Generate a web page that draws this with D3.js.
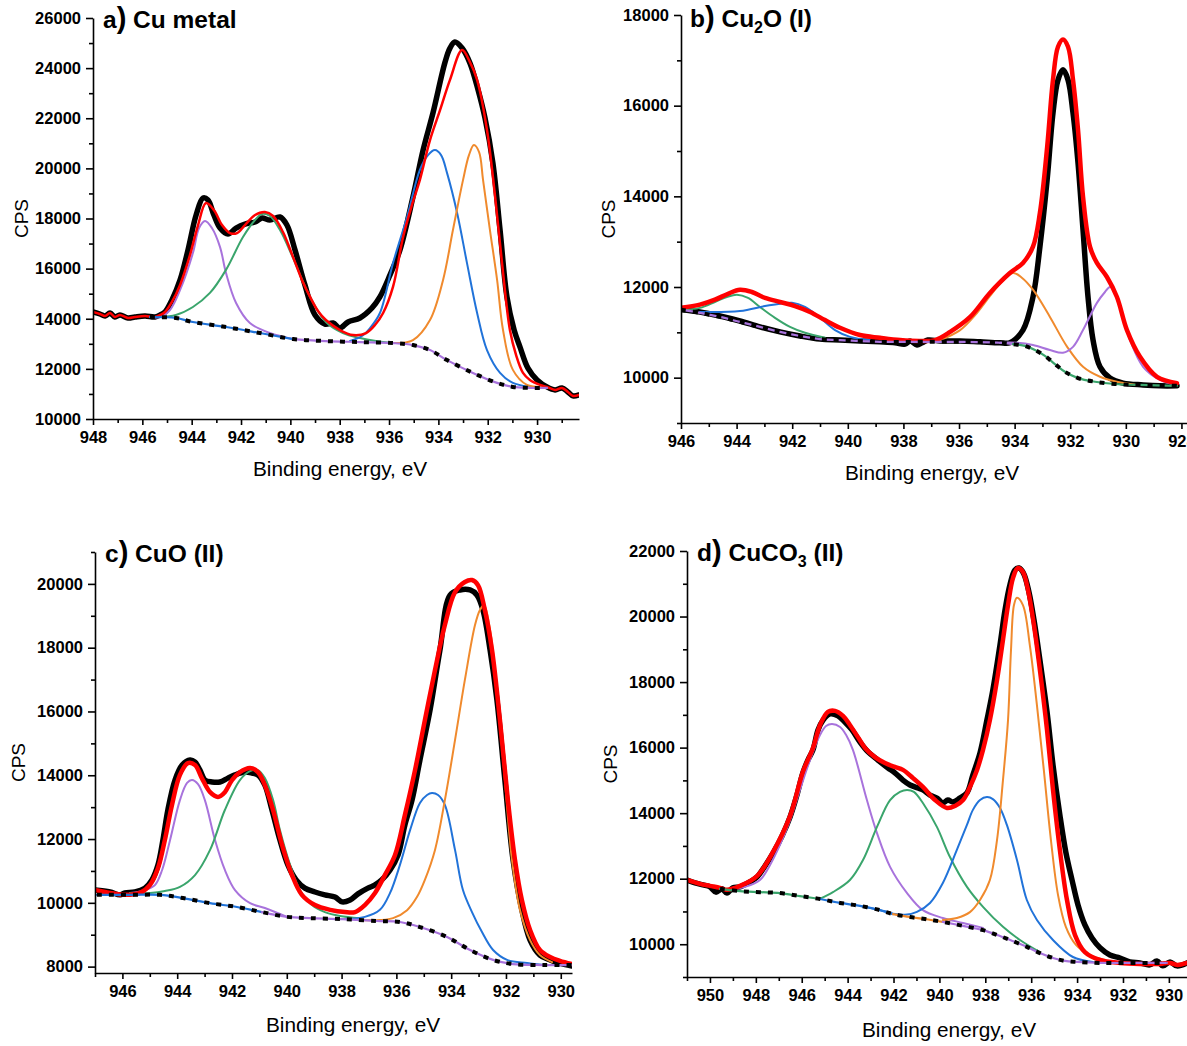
<!DOCTYPE html>
<html lang="en">
<head>
<meta charset="UTF-8">
<title>Cu 2p satellite fits</title>
<script src="https://cdn.jsdelivr.net/npm/d3@7"></script>
<style>
  body { margin: 0; background: #fff; }
  svg text { font-family: "Liberation Sans", Arial, sans-serif; fill: #000; }
</style>
</head>
<body>
<div id="chart"></div>
<script>
// ---- data: [binding energy eV, CPS] ----

// a) Cu metal
const aExp = [[948.00,14270],[947.72,14190],[947.51,14110],[947.31,14230],[947.11,14070],[946.91,14150],[946.58,14030],[946.30,14070],[945.89,14110],[945.49,14070],[945.28,14150],[945.08,14270],[944.80,14750],[944.47,15550],[944.15,16740],[943.82,18140],[943.54,18820],[943.34,18740],[943.10,18140],[942.85,17620],[942.53,17380],[942.20,17620],[941.84,17780],[941.43,17860],[941.15,18020],[940.83,17940],[940.42,18060],[940.14,17740],[939.81,16740],[939.41,15350],[939.00,14150],[938.60,13790],[938.27,13830],[937.99,13630],[937.66,13870],[937.18,14030],[936.69,14430],[936.37,14870],[935.96,15750],[935.56,16740],[935.03,18860],[934.62,20730],[934.22,22210],[933.73,24240],[933.53,24800],[933.33,25040],[933.04,24800],[932.72,24200],[932.39,23130],[932.11,22010],[931.79,20210],[931.50,17540],[931.22,14870],[930.93,13550],[930.69,12870],[930.37,12030],[930.00,11560],[929.60,11280],[929.27,11160],[928.99,11240],[928.75,11080],[928.54,10920],[928.30,10960]];
const aFit = [[948.00,14270],[947.72,14190],[947.51,14110],[947.31,14230],[947.11,14070],[946.91,14150],[946.58,14030],[946.30,14070],[945.89,14110],[945.49,14070],[945.28,14150],[945.08,14270],[944.80,14670],[944.47,15350],[944.07,16540],[943.74,17740],[943.42,18620],[943.10,18340],[942.77,17740],[942.45,17420],[942.16,17420],[941.84,17740],[941.43,18140],[941.03,18260],[940.70,18100],[940.30,17460],[939.89,16460],[939.53,15550],[939.20,14870],[938.88,14310],[938.56,13950],[937.99,13550],[937.46,13350],[936.93,13430],[936.57,13750],[936.24,14230],[935.84,15270],[935.43,17260],[935.07,18540],[934.75,19540],[934.34,21130],[933.93,22330],[933.53,23530],[933.04,24720],[932.72,24240],[932.43,23530],[932.03,21530],[931.70,18860],[931.42,16220],[931.10,13550],[930.85,12550],[930.57,11840],[930.29,11560],[929.88,11360],[929.60,11280],[929.27,11160],[928.99,11240],[928.75,11080],[928.54,10920],[928.30,10960]];
const aBg = [[945.69,14070],[944.64,14030],[943.95,13870],[942.61,13670],[941.23,13430],[939.89,13190],[938.56,13110],[937.18,13070],[935.84,13030],[935.03,12950],[934.34,12750],[933.65,12350],[932.60,11840],[931.62,11440],[930.98,11280],[930.29,11240],[929.60,11240]];
const aPurple = [[945.69,14070],[945.28,14070],[944.88,14350],[944.47,15150],[943.95,16620],[943.70,17620],[943.46,17900],[943.18,17620],[942.85,16860],[942.61,15830],[942.20,14630],[941.64,13830],[940.83,13430],[939.89,13190]];
const aGreen = [[945.28,14070],[944.64,14150],[943.95,14470],[943.26,15030],[942.61,15950],[941.92,17260],[941.43,17940],[941.15,18180],[940.83,18100],[940.42,17540],[939.89,16420],[939.20,14870],[938.56,13870],[937.87,13430],[937.18,13230],[936.53,13110],[935.84,13030]];
const aBlue = [[937.58,13110],[937.10,13310],[936.77,13630],[936.37,14230],[935.84,16220],[935.27,18060],[934.75,19940],[934.42,20530],[934.14,20730],[933.89,20530],[933.65,19820],[933.24,18220],[932.84,16220],[932.43,14230],[932.03,12750],[931.50,11840],[930.98,11440],[930.29,11280],[929.60,11240]];
const aOrange = [[935.84,13030],[935.03,13150],[934.34,13950],[933.81,15550],[933.41,17540],[933.00,19540],[932.76,20530],[932.56,20930],[932.35,20650],[932.19,19540],[931.91,17540],[931.62,15550],[931.38,13550],[930.98,11960],[930.41,11360],[929.88,11280],[929.60,11240]];

// b) Cu2O (I)
const bExp = [[946.00,11500],[945.32,11450],[944.60,11360],[943.88,11250],[943.16,11120],[942.44,11010],[941.72,10920],[941.00,10850],[940.28,10830],[939.56,10810],[938.84,10790],[938.30,10770],[937.94,10740],[937.76,10810],[937.51,10720],[937.33,10770],[937.12,10830],[936.68,10810],[935.96,10810],[935.24,10790],[934.53,10770],[934.17,10770],[933.70,11050],[933.34,11780],[933.09,12890],[932.83,14370],[932.62,15840],[932.44,16570],[932.26,16790],[932.08,16570],[931.90,15840],[931.72,14740],[931.54,13260],[931.36,11780],[931.18,10830],[930.93,10240],[930.57,9990],[930.10,9880],[929.38,9840],[928.77,9820],[928.16,9820]];
const bFit = [[946.00,11540],[945.32,11610],[944.78,11720],[944.31,11850],[943.88,11940],[943.45,11890],[942.98,11760],[942.44,11670],[941.90,11580],[941.36,11450],[940.82,11270],[940.28,11100],[939.56,10940],[938.84,10880],[938.12,10830],[937.40,10810],[936.86,10830],[936.32,11010],[935.60,11340],[934.89,11870],[934.17,12310],[933.70,12530],[933.34,12890],[933.09,13640],[932.83,15090],[932.62,16570],[932.44,17300],[932.26,17460],[932.08,17300],[931.90,16570],[931.72,15470],[931.54,13990],[931.29,12890],[931.04,12530],[930.68,12220],[930.32,11780],[929.96,11050],[929.49,10460],[928.88,10020],[928.16,9880]];
const bBg = [[946.00,11500],[945.32,11430],[944.60,11340],[943.88,11230],[943.16,11120],[942.44,11010],[941.72,10920],[941.00,10850],[940.28,10830],[938.84,10790],[937.40,10790],[935.96,10790],[934.53,10770],[934.06,10740],[933.63,10700],[933.27,10610],[932.91,10480],[932.55,10300],[932.19,10130],[931.72,9990],[931.11,9910],[930.39,9860],[929.49,9840],[928.16,9820]];
const bGreen = [[946.00,11500],[945.32,11540],[944.78,11670],[944.35,11780],[943.99,11830],[943.59,11760],[943.16,11560],[942.62,11320],[942.08,11120],[941.54,10990],[940.82,10880]];
const bBlue = [[945.32,11450],[943.88,11470],[942.98,11580],[942.44,11630],[942.01,11650],[941.54,11560],[941.00,11320],[940.46,11050],[939.92,10900],[939.20,10830]];
const bOrange = [[936.68,10830],[935.96,11050],[935.42,11380],[934.89,11800],[934.53,12070],[934.06,12310],[933.73,12200],[933.34,11940],[932.73,11340],[932.11,10680],[931.54,10240],[930.93,10020],[930.32,9910],[929.60,9840]];
const bPurple = [[934.53,10770],[933.91,10770],[933.34,10720],[932.73,10610],[932.26,10550],[931.90,10680],[931.54,11050],[931.04,11650],[930.75,11890],[930.57,12000],[930.39,11890],[930.21,11560],[929.85,10830],[929.38,10240],[928.77,9950],[928.16,9840]];

// c) CuO (II)
const cExp = [[947.00,10400],[946.45,10340],[946.09,10250],[945.91,10310],[945.54,10340],[945.18,10460],[944.92,10720],[944.70,11190],[944.52,11970],[944.34,12910],[944.08,13850],[943.82,14320],[943.53,14480],[943.35,14410],[943.17,14160],[942.99,13850],[942.73,13790],[942.44,13790],[942.15,13910],[941.89,14010],[941.53,14100],[941.27,14070],[941.05,14010],[940.80,13690],[940.54,12910],[940.25,11970],[939.96,11190],[939.66,10720],[939.34,10460],[938.97,10340],[938.61,10250],[938.24,10180],[937.98,10030],[937.69,10090],[937.40,10280],[937.04,10460],[936.78,10560],[936.53,10720],[936.23,11030],[935.94,11500],[935.69,12440],[935.43,13220],[935.14,14480],[934.77,16050],[934.41,17930],[934.04,19650],[933.68,19810],[933.31,19810],[933.06,19650],[932.84,19180],[932.58,17930],[932.33,16360],[932.04,13850],[931.74,11340],[931.42,9780],[931.12,8830],[930.76,8360],[930.39,8210],[930.07,8110],[929.59,8020]];
const cFit = [[947.00,10400],[946.45,10310],[945.91,10250],[945.36,10310],[944.99,10560],[944.70,11090],[944.45,11970],[944.19,13070],[943.90,14010],[943.61,14380],[943.35,14320],[943.10,13910],[942.80,13470],[942.51,13320],[942.26,13470],[942.00,13850],[941.71,14100],[941.34,14230],[941.05,14100],[940.80,13690],[940.50,12910],[940.17,11810],[939.81,10870],[939.45,10250],[938.97,9930],[938.42,9780],[937.88,9710],[937.51,9710],[937.15,9930],[936.78,10310],[936.42,10870],[936.05,11500],[935.69,12750],[935.32,14160],[934.96,15730],[934.59,17300],[934.23,18710],[933.86,19740],[933.50,20060],[933.24,20120],[933.02,19960],[932.77,19180],[932.51,17930],[932.22,15730],[931.93,13220],[931.67,11340],[931.42,10090],[931.12,9150],[930.76,8520],[930.39,8300],[930.03,8180],[929.59,8080]];
const cBg = [[946.93,10250],[945.72,10250],[944.63,10250],[943.79,10150],[942.80,9990],[941.82,9870],[940.91,9710],[939.99,9560],[939.15,9520],[937.95,9490],[936.71,9430],[935.87,9400],[935.14,9240],[934.15,8930],[933.31,8520],[932.47,8210],[931.74,8080],[930.65,8050],[929.59,8050]];
const cPurple = [[945.72,10310],[945.18,10400],[944.81,10560],[944.55,11030],[944.26,11970],[943.90,13220],[943.64,13760],[943.46,13850],[943.24,13720],[942.99,13220],[942.62,11970],[942.26,11030],[941.89,10400],[941.34,9990],[940.80,9840],[939.99,9560]];
const cGreen = [[945.72,10310],[944.99,10310],[944.45,10370],[943.90,10500],[943.35,10870],[942.80,11660],[942.26,12910],[941.71,13850],[941.34,14130],[941.05,14160],[940.80,13910],[940.50,13220],[940.25,12280],[939.88,11190],[939.52,10400],[939.08,9930],[938.61,9710],[938.06,9590],[937.33,9520]];
const cBlue = [[937.95,9490],[937.15,9560],[936.60,9780],[936.23,10310],[935.87,11190],[935.50,12280],[935.14,13130],[934.88,13380],[934.70,13440],[934.48,13380],[934.23,13070],[933.86,11660],[933.57,10400],[933.24,9710],[932.88,9090],[932.47,8520],[931.96,8210],[931.23,8110],[930.58,8050]];
const cOrange = [[937.33,9460],[936.60,9460],[936.12,9520],[935.61,9770],[935.25,10180],[934.96,10720],[934.59,11660],[934.23,13220],[933.86,15100],[933.50,16990],[933.13,18710],[932.95,19180],[932.80,19340],[932.58,18550],[932.33,16670],[932.04,13850],[931.78,11340],[931.49,9780],[931.12,8830],[930.76,8360],[930.32,8140]];

// d) CuCO3 (II)
const dExp = [[951.00,11960],[950.65,11870],[950.30,11810],[950.00,11750],[949.74,11590],[949.47,11690],[949.26,11560],[949.00,11720],[948.69,11750],[948.26,11900],[947.95,12050],[947.60,12390],[947.25,12780],[946.86,13300],[946.51,13880],[946.21,14550],[945.95,15230],[945.73,15620],[945.51,15930],[945.29,16540],[945.07,16840],[944.77,17030],[944.42,16970],[944.12,16780],[943.81,16540],[943.46,16170],[943.11,15870],[942.68,15620],[942.24,15380],[941.94,15230],[941.59,15010],[941.28,14860],[940.94,14770],[940.72,14710],[940.41,14550],[940.11,14460],[939.85,14310],[939.63,14400],[939.41,14340],[939.11,14460],[938.80,14620],[938.54,15170],[938.23,15840],[937.93,16840],[937.67,17760],[937.36,19130],[937.14,20200],[936.93,20960],[936.71,21420],[936.53,21480],[936.32,21300],[936.10,20750],[935.88,19900],[935.62,18670],[935.31,17090],[935.05,15470],[934.75,13940],[934.49,12810],[934.22,11960],[933.96,11200],[933.66,10590],[933.35,10190],[933.00,9890],[932.57,9670],[932.13,9580],[931.70,9460],[931.26,9430],[930.83,9370],[930.52,9490],[930.26,9340],[929.95,9460],[929.65,9340],[929.21,9430]];
const dFit = [[951.00,11960],[950.43,11840],[950.00,11780],[949.56,11720],[949.26,11660],[948.69,11780],[947.95,12080],[947.25,12820],[946.51,13910],[945.95,15260],[945.51,15990],[945.20,16690],[944.86,17090],[944.55,17120],[944.20,16970],[943.90,16690],[943.55,16320],[943.24,15990],[942.81,15710],[942.37,15530],[941.94,15410],[941.59,15320],[941.15,15070],[940.72,14800],[940.19,14400],[939.67,14160],[939.32,14220],[938.97,14400],[938.67,14800],[938.36,15320],[938.10,15930],[937.80,16840],[937.49,18060],[937.23,19290],[937.01,20350],[936.79,21180],[936.58,21480],[936.36,21360],[936.14,20810],[935.88,19740],[935.62,18370],[935.31,16540],[935.05,14710],[934.75,12880],[934.44,11350],[934.09,10280],[933.66,9760],[933.00,9520],[932.13,9430],[931.26,9400],[930.39,9400],[929.95,9430],[929.65,9370],[929.21,9430]];
const dBg = [[949.56,11690],[948.69,11620],[947.82,11590],[946.95,11560],[946.08,11470],[945.20,11380],[944.33,11260],[943.46,11170],[942.59,11040],[942.02,10920],[941.28,10830],[940.63,10770],[939.85,10680],[938.97,10560],[938.10,10430],[937.36,10250],[936.71,10070],[936.19,9920],[935.62,9730],[935.05,9580],[934.53,9490],[934.00,9460],[933.00,9430],[931.57,9430],[930.09,9430]];
const dPurple = [[949.13,11660],[948.47,11750],[947.82,11960],[947.38,12420],[946.95,13030],[946.51,13790],[946.08,14710],[945.64,15620],[945.20,16390],[944.94,16660],[944.68,16720],[944.33,16630],[944.07,16390],[943.77,15930],[943.16,14400],[942.72,13390],[942.15,12360],[941.41,11560],[940.72,11040],[939.85,10800],[938.97,10650],[938.10,10500]];
const dGreen = [[945.20,11390],[944.64,11590],[943.90,11960],[943.33,12570],[942.72,13580],[942.15,14400],[941.72,14650],[941.41,14710],[941.11,14650],[940.72,14310],[940.11,13580],[939.54,12660],[938.80,11750],[938.10,11140],[937.23,10530],[936.49,10130],[935.62,9760]];
const dBlue = [[943.46,11170],[942.59,11040],[942.02,10930],[941.50,10900],[940.98,10990],[940.41,11260],[939.85,11870],[939.24,12880],[938.80,13640],[938.54,14100],[938.23,14400],[937.93,14490],[937.67,14430],[937.36,14160],[937.06,13640],[936.62,12570],[936.19,11350],[935.75,10740],[935.05,10130],[934.18,9610],[933.31,9460]];
const dOrange = [[939.85,10740],[939.24,10800],[938.67,10980],[938.23,11350],[937.80,11960],[937.49,13180],[937.23,15010],[937.01,16840],[936.88,18980],[936.75,20350],[936.62,20570],[936.36,20350],[936.06,19130],[935.75,17300],[935.45,15320],[935.14,13180],[934.83,11500],[934.49,10530],[934.05,9980],[933.44,9670],[932.79,9520]];

// ---- styles / layout ----
const PURPLE = "#a873dc", GREEN = "#3aa56c", BLUE = "#2173d9", ORANGE = "#f08a2d", RED = "#ff0000";

const panels = [
  { id: "a", left: 93, right: 579, top: 18, bottom: 419, xDomain: [948, 928.3], yDomain: [10000, 26000],
    exp: aExp, fit: aFit, bg: aBg, fitWidth: 2.5,
    comps: [[aPurple, PURPLE], [aGreen, GREEN], [aBlue, BLUE], [aOrange, ORANGE]],
    bgUnder: [[946, 939.89, BLUE], [939.89, 929, PURPLE]],
    title: { x: 103, y: 28, parts: [["a"], [")", "paren"], [" Cu metal"]] },
    yLabelX: 21, xLabelX: 340, xLabelY: 476 },
  { id: "b", left: 681, right: 1187, top: 15, bottom: 423, xDomain: [946, 927.8], yDomain: [9000, 18000],
    exp: bExp, fit: bFit, bg: bBg, fitWidth: 4.5,
    comps: [[bGreen, GREEN], [bBlue, BLUE], [bOrange, ORANGE], [bPurple, PURPLE]],
    bgUnder: [[946.1, 934.06, PURPLE], [934.06, 927, GREEN]],
    title: { x: 690, y: 27, parts: [["b"], [")", "paren"], [" Cu"], ["2", "sub"], ["O (I)"]] },
    yLabelX: 608, xLabelX: 932, xLabelY: 480 },
  { id: "c", left: 95, right: 572, top: 552, bottom: 973, xDomain: [947, 929.59], yDomain: [7800, 21000],
    exp: cExp, fit: cFit, bg: cBg, fitWidth: 4.5,
    comps: [[cPurple, PURPLE], [cGreen, GREEN], [cBlue, BLUE], [cOrange, ORANGE]],
    bgUnder: [[947.1, 940.91, BLUE], [940.91, 929, PURPLE]],
    title: { x: 105, y: 562, parts: [["c"], [")", "paren"], [" CuO (II)"]] },
    yLabelX: 18, xLabelX: 353, xLabelY: 1032 },
  { id: "d", left: 687, right: 1187, top: 551, bottom: 977, xDomain: [951, 929.21], yDomain: [9000, 22000],
    exp: dExp, fit: dFit, bg: dBg, fitWidth: 4.5,
    comps: [[dPurple, PURPLE], [dGreen, GREEN], [dBlue, BLUE], [dOrange, ORANGE]],
    bgUnder: [[950, 945.20, GREEN], [945.20, 942.02, BLUE], [942.02, 939.85, ORANGE], [939.85, 929, PURPLE]],
    title: { x: 697, y: 561, parts: [["d"], [")", "paren"], [" CuCO"], ["3", "sub"], [" (II)"]] },
    yLabelX: 610, xLabelX: 949, xLabelY: 1037 }
];

const W = 1187, H = 1046;
const svg = d3.select("#chart").append("svg")
  .attr("width", W).attr("height", H)
  .attr("viewBox", [0, 0, W, H]);

panels.forEach(p => {
  const x = d3.scaleLinear().domain(p.xDomain).range([p.left, p.right]);
  const y = d3.scaleLinear().domain(p.yDomain).range([p.bottom, p.top]);
  const line = d3.line()
    .x(d => x(d[0])).y(d => y(d[1]))
    .curve(d3.curveCatmullRom.alpha(0.5));

  const g = svg.append("g");

  svg.append("clipPath").attr("id", "clip-" + p.id)
    .append("rect")
    .attr("x", p.left).attr("y", p.top - 20)
    .attr("width", p.right - p.left).attr("height", p.bottom - p.top + 20);

  const plot = g.append("g").attr("clip-path", `url(#clip-${p.id})`);

  const stroke = (sel, color, w) => sel.attr("fill", "none").attr("stroke", color)
    .attr("stroke-width", w).attr("stroke-linejoin", "round").attr("stroke-linecap", "round");

  // experimental spectrum
  plot.append("path").datum(p.exp).attr("d", line).call(stroke, "#000", 5.5);

  // fitted components
  p.comps.forEach(([data, color]) => {
    plot.append("path").datum(data).attr("d", line).call(stroke, color, 2);
  });

  // envelope
  plot.append("path").datum(p.fit).attr("d", line).call(stroke, RED, p.fitWidth);

  // background: coloured line under black dashes
  p.bgUnder.forEach(([hi, lo, color]) => {
    const seg = p.bg.filter(d => d[0] <= hi && d[0] >= lo);
    plot.append("path").datum(seg).attr("d", line).call(stroke, color, 2.2);
  });
  plot.append("path").datum(p.bg).attr("d", line)
    .attr("fill", "none").attr("stroke", "#000").attr("stroke-width", 4)
    .attr("stroke-dasharray", "5,7");

  // axes
  const [xHi, xLo] = p.xDomain;
  const xMajor = d3.range(Math.ceil(xLo / 2) * 2, xHi + 0.001, 2);
  const xMinor = d3.range(Math.ceil(xLo), xHi + 0.001, 1).filter(v => v % 2 !== 0);
  const [yLo, yHi] = p.yDomain;
  const yMajor = d3.range(Math.ceil(yLo / 2000) * 2000, yHi + 1, 2000);
  const yMinor = d3.range(Math.ceil(yLo / 1000) * 1000, yHi + 1, 1000).filter(v => v % 2000 !== 0);

  const xAxis = g.append("g").attr("transform", `translate(0,${p.bottom})`)
    .call(d3.axisBottom(x).tickValues(xMajor).tickFormat(d3.format("d")).tickSize(6).tickSizeOuter(0).tickPadding(6));
  g.append("g").attr("transform", `translate(0,${p.bottom})`)
    .call(d3.axisBottom(x).tickValues(xMinor).tickFormat("").tickSize(4).tickSizeOuter(0))
    .select(".domain").remove();

  const yAxis = g.append("g").attr("transform", `translate(${p.left},0)`)
    .call(d3.axisLeft(y).tickValues(yMajor).tickFormat(d3.format("d")).tickSize(7).tickSizeOuter(0).tickPadding(5));
  g.append("g").attr("transform", `translate(${p.left},0)`)
    .call(d3.axisLeft(y).tickValues(yMinor).tickFormat("").tickSize(4).tickSizeOuter(0))
    .select(".domain").remove();

  g.selectAll(".domain, .tick line").attr("stroke", "#000").attr("stroke-width", 1.6);
  [xAxis, yAxis].forEach(ax => ax.selectAll("text")
    .attr("font-family", '"Liberation Sans", Arial, sans-serif')
    .attr("font-size", 16.5).attr("font-weight", "bold").attr("fill", "#000"));

  // axis titles
  g.append("text")
    .attr("x", p.xLabelX).attr("y", p.xLabelY)
    .attr("text-anchor", "middle").attr("font-size", 20.8)
    .text("Binding energy, eV");
  g.append("text")
    .attr("transform", `translate(${p.yLabelX},${(p.top + p.bottom) / 2}) rotate(-90)`)
    .attr("text-anchor", "middle").attr("dy", "0.35em").attr("font-size", 19)
    .text("CPS");

  // panel title
  const t = g.append("text").attr("x", p.title.x).attr("y", p.title.y)
    .attr("font-weight", "bold").attr("font-size", 24.5);
  let shifted = 0;
  p.title.parts.forEach(([s, kind]) => {
    const span = t.append("tspan").text(s);
    if (kind === "paren") span.attr("font-size", 29);
    if (kind === "sub") { span.attr("font-size", 16).attr("dy", 6); shifted = 6; }
    else if (shifted) { span.attr("dy", -shifted); shifted = 0; }
  });
});
</script>
</body>
</html>
